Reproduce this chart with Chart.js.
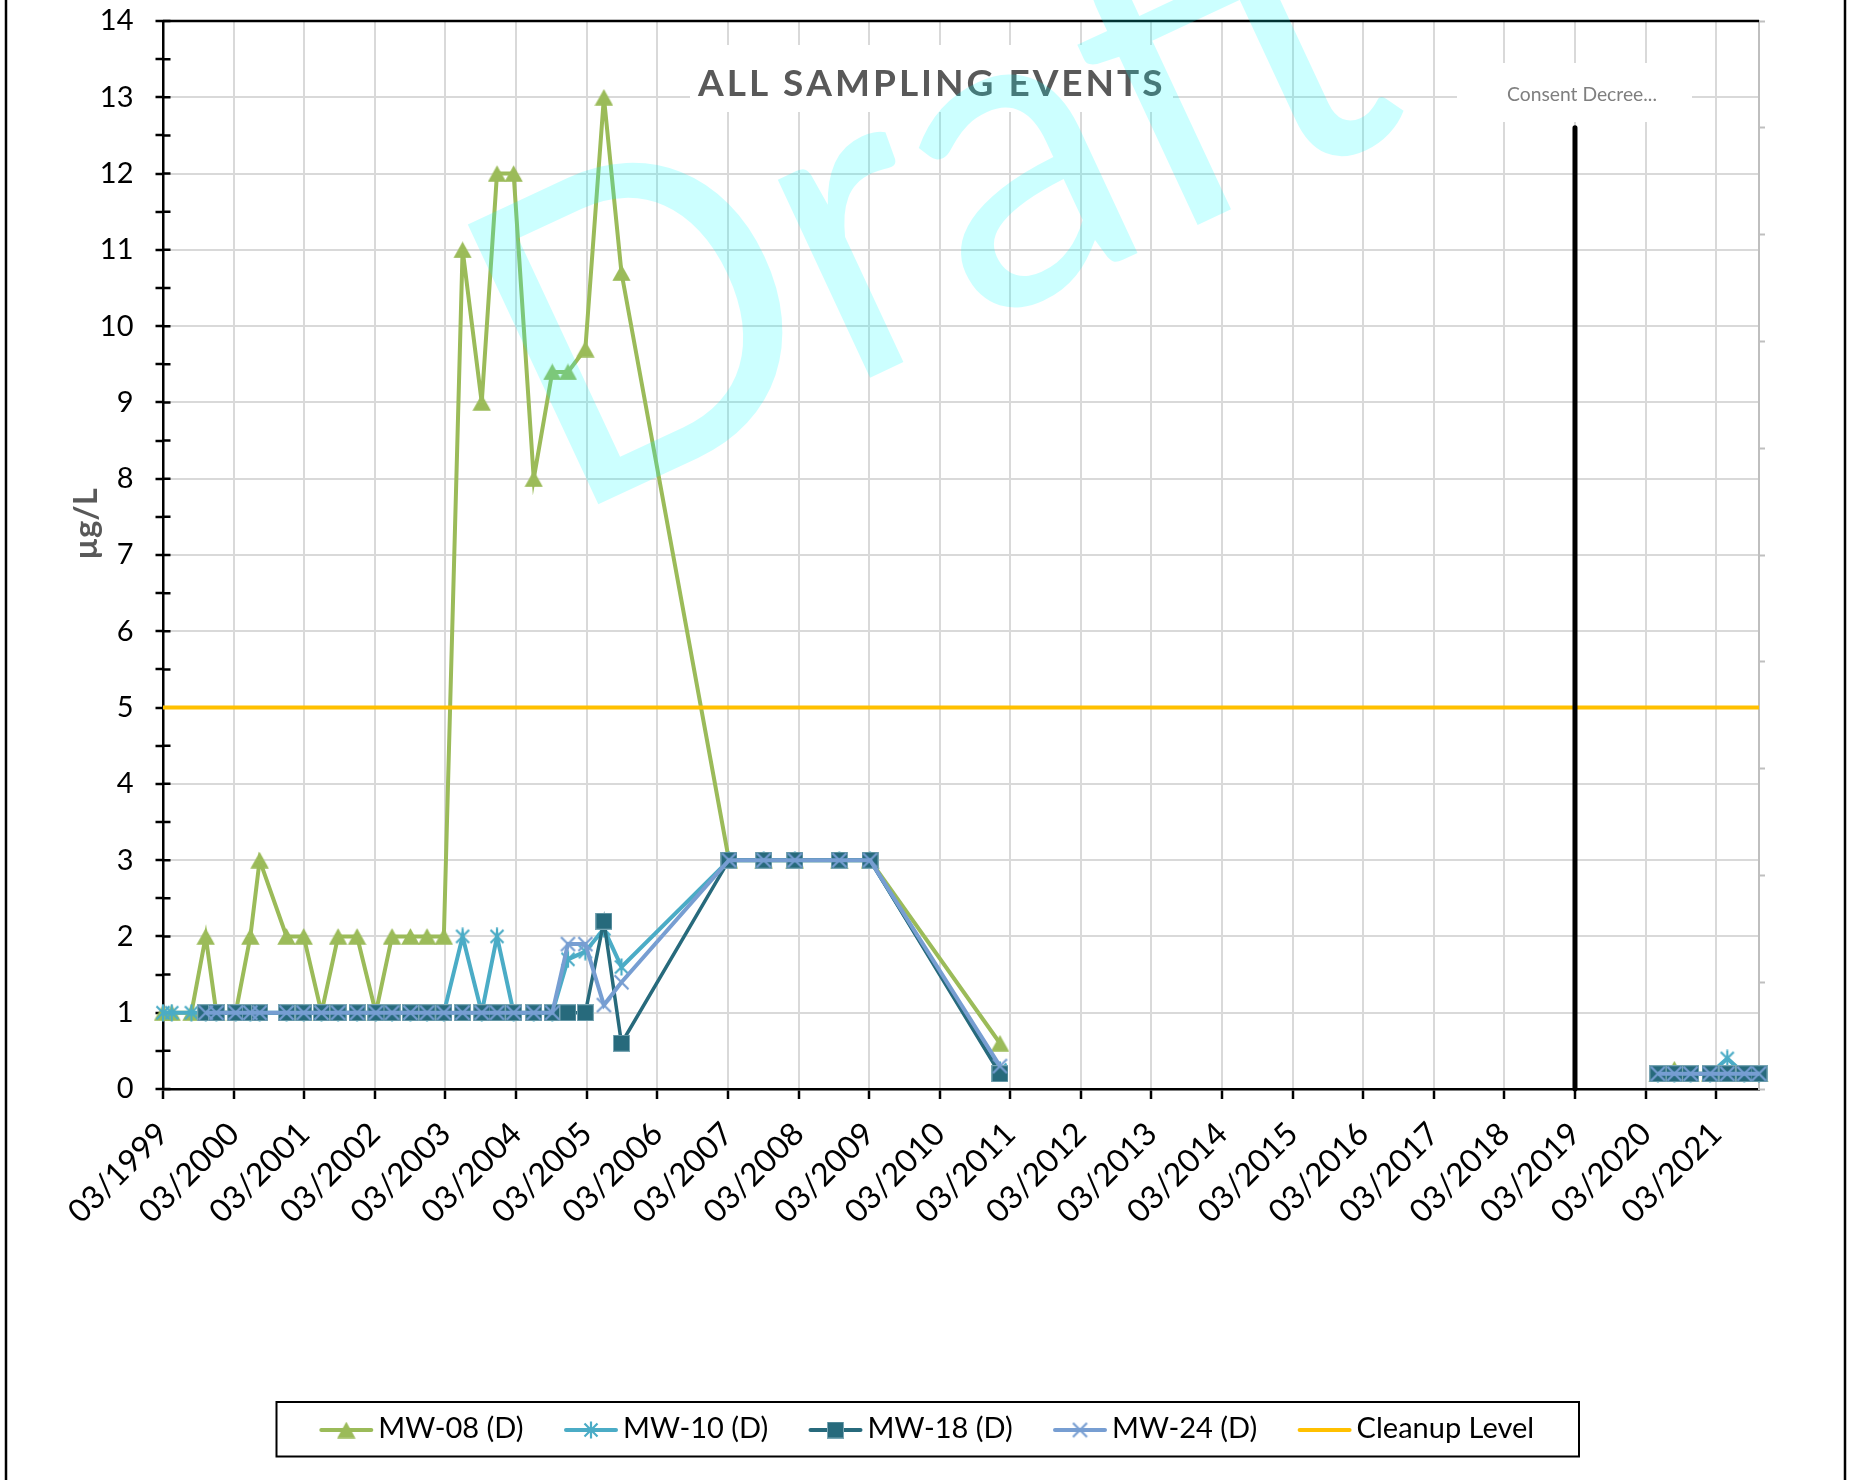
<!DOCTYPE html>
<html><head><meta charset="utf-8">
<script src="https://cdn.jsdelivr.net/npm/chart.js@4.4.1/dist/chart.umd.min.js"></script>
<style>html,body{margin:0;padding:0;background:#fff;overflow:hidden}canvas{display:block}</style>
</head><body>
<canvas id="c" width="1853" height="1480" style="width:1853px;height:1480px"></canvas>
<script>
// ---------- DATA ----------
const sampleDates = ['1999-03-10','1999-04-24','1999-08-04','1999-10-17','1999-12-11','2000-03-20','2000-06-04','2000-07-22','2000-12-08','2001-03-07','2001-06-07','2001-09-01','2001-12-08','2002-03-15','2002-06-07','2002-09-10','2002-12-05','2003-03-02','2003-06-07','2003-09-14','2003-12-02','2004-02-26','2004-06-09','2004-09-13','2004-12-03','2005-03-03','2005-06-07','2005-09-06','2007-03-16','2007-09-12','2008-02-20','2008-10-07','2009-03-15','2011-01-16','2015-06-01','2020-05-12','2020-08-05','2020-10-28','2021-02-06','2021-05-06','2021-08-02','2021-10-17'];
const mw08 = [1,1,1,2,1,1,2,3,2,2,1,2,2,1,2,2,2,2,11,9,12,12,8,9.4,9.4,9.7,13,10.7,3,3,3,3,3,0.6,null,0.2,0.26,0.2,0.2,0.2,0.2,0.2];
const mw10 = [1,1,1,1,1,1,1,1,1,1,1,1,1,1,1,1,1,1,2,1,2,1,1,1,1.7,1.8,2.1,1.6,3,3,3,3,3,0.25,null,0.2,0.2,0.2,0.2,0.4,0.2,0.2];
const mw18 = [null,null,null,1,1,1,1,1,1,1,1,1,1,1,1,1,1,1,1,1,1,1,1,1,1,1,2.2,0.6,3,3,3,3,3,0.2,null,0.2,0.2,0.2,0.2,0.2,0.2,0.2];
const mw24 = [null,null,null,1,1,1,1,1,1,1,1,1,1,1,1,1,1,1,1,1,1,1,1,1,1.9,1.9,1.1,1.4,3,3,3,3,3,0.3,null,0.2,0.2,0.2,0.2,0.2,0.2,0.2];
const cleanupLevel = 5;
const consentDecreeDate = '2019-03-10';
const consentDecreeHeight = 0.9; // on secondary axis (0..1)
const seriesNames = ['MW-08 (D)','MW-10 (D)','MW-18 (D)','MW-24 (D)','Cleanup Level'];
const xTickLabels = ['03/1999','03/2000','03/2001','03/2002','03/2003','03/2004','03/2005','03/2006','03/2007','03/2008','03/2009','03/2010','03/2011','03/2012','03/2013','03/2014','03/2015','03/2016','03/2017','03/2018','03/2019','03/2020','03/2021'];
const yTickLabels = ['0','1','2','3','4','5','6','7','8','9','10','11','12','13','14'];
const chartTitle = 'ALL SAMPLING EVENTS';
const yAxisTitle = 'µg/L';
const consentLabel = 'Consent Decree...';
const watermarkText = 'Draft';

// ---------- HELPERS ----------
const toMs = s => Date.parse(s + 'T00:00:00Z');
const tickMs = lbl => { const p = lbl.split('/'); return Date.UTC(+p[1], +p[0] - 1, 10); };
const xMin = toMs(sampleDates[0]);
const xMax = toMs(sampleDates[sampleDates.length - 1]);

const C08 = '#9BBB59', C10 = '#4BACC6', C18 = '#276A7C', C24 = '#779ED2', CCL = '#FFC000';

function marker(kind, color) {
  const c = document.createElement('canvas');
  const g = c.getContext('2d');
  if (kind === 'triangle') {
    c.width = 19; c.height = 17;
    g.fillStyle = color; g.beginPath();
    g.moveTo(9.5, 0.3); g.lineTo(18.7, 16.7); g.lineTo(0.3, 16.7); g.closePath(); g.fill();
  } else if (kind === 'star') {
    c.width = 18; c.height = 18;
    g.strokeStyle = color; g.lineWidth = 2.2; g.beginPath();
    g.moveTo(2.5, 2.5); g.lineTo(15.5, 15.5);
    g.moveTo(15.5, 2.5); g.lineTo(2.5, 15.5);
    g.moveTo(9, 0.5); g.lineTo(9, 17.5); g.stroke();
  } else if (kind === 'square') {
    c.width = 17; c.height = 17;
    g.fillStyle = color; g.fillRect(0, 0, 17, 17);
    g.strokeStyle = 'rgba(190,215,225,0.55)'; g.lineWidth = 1; g.strokeRect(0.5, 0.5, 16, 16);
  } else {
    c.width = 17; c.height = 17;
    g.strokeStyle = color; g.lineWidth = 2.2; g.beginPath();
    g.moveTo(1.5, 1.5); g.lineTo(15.5, 15.5);
    g.moveTo(15.5, 1.5); g.lineTo(1.5, 15.5); g.stroke();
  }
  return c;
}
const M08 = marker('triangle', C08), M10 = marker('star', C10), M18 = marker('square', C18), M24 = marker('x', C24);

function series(label, values, color, width, mk, order) {
  return {
    label, data: sampleDates.map((d, i) => ({ x: toMs(d), y: values[i] })),
    borderColor: color, backgroundColor: color, borderWidth: width,
    pointStyle: mk, pointRadius: 9, pointHoverRadius: 9,
    showLine: true, spanGaps: false, clip: false, order, tension: 0
  };
}

const datasets = [
  series(seriesNames[0], mw08, C08, 4, M08, 6),
  series(seriesNames[1], mw10, C10, 4, M10, 5),
  series(seriesNames[2], mw18, C18, 3.5, M18, 4),
  series(seriesNames[3], mw24, C24, 4, M24, 3),
  { label: seriesNames[4], data: [{ x: xMin, y: cleanupLevel }, { x: xMax, y: cleanupLevel }],
    borderColor: CCL, backgroundColor: CCL, borderWidth: 4, pointRadius: 0, showLine: true, clip: false, order: 2 },
  { label: 'Consent Decree', yAxisID: 'y2',
    data: [{ x: toMs(consentDecreeDate), y: 0 }, { x: toMs(consentDecreeDate), y: consentDecreeHeight }],
    borderColor: '#000', backgroundColor: '#000', borderWidth: 5, borderCapStyle: 'round',
    pointRadius: 0, showLine: true, clip: false, order: 1 }
];

// ---------- PLUGINS ----------
const bg = {
  id: 'bg',
  beforeDraw(chart) { const ctx = chart.ctx; ctx.save(); ctx.fillStyle = '#fff'; ctx.fillRect(0, 0, chart.width, chart.height); ctx.restore(); }
};

const axisExtras = {
  id: 'axisExtras',
  beforeDatasetsDraw(chart) {
    const ctx = chart.ctx, ca = chart.chartArea, ys = chart.scales.y;
    ctx.save();
    ctx.strokeStyle = '#000'; ctx.lineWidth = 2.5;
    ctx.beginPath(); ctx.moveTo(ca.left - 1, ca.top); ctx.lineTo(ca.right, ca.top); ctx.stroke();
    ctx.beginPath();
    for (let v = 0; v <= 14; v += 0.5) {
      const py = ys.getPixelForValue(v);
      ctx.moveTo(ca.left, py); ctx.lineTo(ca.left + 7.5, py);
    }
    ctx.stroke();
    ctx.restore();
  }
};

const overlay = {
  id: 'overlay',
  afterDatasetsDraw(chart) {
    const ctx = chart.ctx, xs = chart.scales.x;
    ctx.save();
    // title box + letter-spaced title
    ctx.fillStyle = '#fff'; ctx.fillRect(690, 45, 483, 67);
    ctx.font = 'bold 37px Lato'; ctx.fillStyle = '#595959'; ctx.textBaseline = 'alphabetic'; ctx.textAlign = 'left';
    const w0 = ctx.measureText(chartTitle).width;
    const sp = (464 - w0) / (chartTitle.length - 1);
    let tx = 698;
    for (const ch of chartTitle) { ctx.fillText(ch, tx, 96); tx += ctx.measureText(ch).width + sp; }
    // consent decree label
    const px = xs.getPixelForValue(toMs(consentDecreeDate));
    ctx.fillStyle = '#fff'; ctx.fillRect(px - 118, 63, 235, 59);
    let fs = 19.5; ctx.font = fs + 'px Lato';
    fs = fs * 150 / ctx.measureText(consentLabel).width; ctx.font = fs.toFixed(2) + 'px Lato';
    ctx.fillStyle = '#7F7F7F'; ctx.textAlign = 'center'; ctx.fillText(consentLabel, px + 7, 100.7);
    // y axis title
    ctx.save(); ctx.translate(86, 524); ctx.rotate(-Math.PI / 2);
    ctx.font = 'bold 33px Lato'; ctx.fillStyle = '#595959'; ctx.textAlign = 'center'; ctx.textBaseline = 'middle';
    ctx.fillText(yAxisTitle, 0, 0); ctx.restore();
    // legend
    ctx.strokeStyle = '#000'; ctx.lineWidth = 2; ctx.strokeRect(276.5, 1402, 1302.5, 54.5);
    const starts = [319.3, 564, 808.5, 1053, 1297.6];
    const ly = 1430;
    ctx.font = '29px Lato'; ctx.textAlign = 'left'; ctx.textBaseline = 'middle'; ctx.fillStyle = '#000';
    chart.data.datasets.slice(0, 5).forEach((ds, i) => {
      const x0 = starts[i];
      ctx.strokeStyle = ds.borderColor; ctx.lineWidth = 4; ctx.lineCap = 'round';
      ctx.beginPath(); ctx.moveTo(x0 + 2, ly); ctx.lineTo(x0 + 52, ly); ctx.stroke();
      if (ds.pointStyle && typeof ds.pointStyle === 'object') {
        const m = ds.pointStyle; ctx.drawImage(m, x0 + 27 - m.width / 2, ly - m.height / 2);
      }
      ctx.fillStyle = '#000'; ctx.fillText(ds.label, x0 + 59, ly - 1);
    });
    // outer chart border
    ctx.strokeStyle = '#000'; ctx.lineWidth = 2.5; ctx.lineCap = 'butt';
    ctx.beginPath(); ctx.moveTo(6, 0); ctx.lineTo(6, 1480); ctx.moveTo(1845, 0); ctx.lineTo(1845, 1480); ctx.stroke();
    ctx.restore();
  }
};

const watermark = {
  id: 'watermark',
  afterDraw(chart) {
    const ctx = chart.ctx;
    ctx.save();
    ctx.translate(593.3, 506.7); ctx.rotate(-25 * Math.PI / 180);
    ctx.font = '431px Lato'; ctx.textBaseline = 'alphabetic'; ctx.textAlign = 'left';
    const m = ctx.measureText(watermarkText);
    const inkW = m.actualBoundingBoxLeft + m.actualBoundingBoxRight;
    ctx.scale(907 / inkW, 1);
    ctx.fillStyle = 'rgba(0,255,255,0.2)';
    ctx.fillText(watermarkText, m.actualBoundingBoxLeft, 0);
    ctx.restore();
  }
};

// ---------- CHART ----------
Chart.defaults.font.family = "Lato, 'Open Sans', sans-serif";
Chart.defaults.color = '#000';

new Chart(document.getElementById('c'), {
  type: 'scatter',
  data: { datasets },
  options: {
    responsive: false, animation: false, devicePixelRatio: 1,
    events: [],
    layout: { padding: { top: 21, left: 0, right: 0, bottom: 0 } },
    plugins: { legend: { display: false }, tooltip: { enabled: false }, title: { display: false } },
    scales: {
      x: {
        type: 'linear', position: 'bottom', min: xMin, max: xMax,
        afterBuildTicks(s) { s.ticks = xTickLabels.map(l => ({ value: tickMs(l) })); },
        afterFit(s) { s.height = 1480 - 1089; s.paddingLeft = 0; s.paddingRight = 0; },
        grid: { color: '#D9D9D9', lineWidth: 2, drawTicks: true, tickLength: 10, tickColor: '#000', tickWidth: 2.5 },
        border: { color: '#000', width: 2.5 },
        ticks: { autoSkip: false, maxRotation: 45, minRotation: 45, padding: 16, font: { size: 32 }, color: '#000',
                 callback: (v, i) => xTickLabels[i] }
      },
      y: {
        position: 'left', min: 0, max: 14,
        afterFit(s) { s.width = 163; s.paddingTop = 0; s.paddingBottom = 0; },
        grid: { color: c => Number.isInteger(c.tick.value) ? '#D9D9D9' : 'rgba(0,0,0,0)', lineWidth: 2,
                drawTicks: true, tickLength: 7.5, tickColor: '#000', tickWidth: 2.5 },
        border: { color: '#000', width: 2.5 },
        ticks: { stepSize: 0.5, padding: 22, font: { size: 29 }, color: '#000',
                 callback: v => Number.isInteger(v) ? yTickLabels[v] : '' }
      },
      y2: {
        position: 'right', min: 0, max: 1,
        afterFit(s) { s.width = 1853 - 1759; s.paddingTop = 0; s.paddingBottom = 0; },
        grid: { drawOnChartArea: false, drawTicks: true, tickLength: 6, tickColor: '#BFBFBF', tickWidth: 2 },
        border: { color: '#BFBFBF', width: 2 },
        ticks: { stepSize: 0.1, display: false }
      }
    }
  },
  plugins: [bg, axisExtras, overlay, watermark]
});
</script>
</body></html>
